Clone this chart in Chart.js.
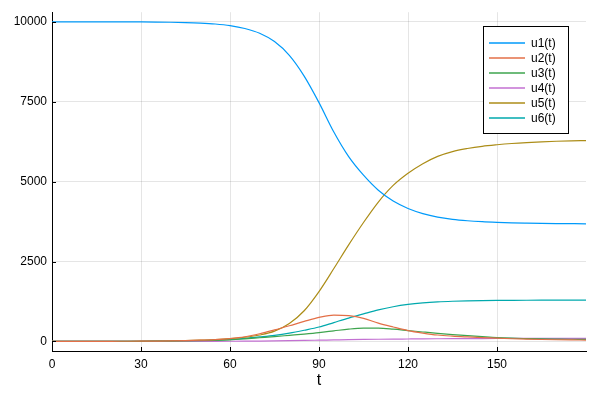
<!DOCTYPE html>
<html>
<head>
<meta charset="utf-8">
<script src="https://cdn.jsdelivr.net/npm/chart.js@4.4.0/dist/chart.umd.min.js"></script>
<style>
  html, body { margin: 0; padding: 0; background: #fff; }
  #wrap { width: 597px; height: 397px; }
</style>
</head>
<body>
<div id="wrap"><canvas id="chart" width="597" height="397"></canvas></div>
<script>
// time points (step 5)
const tValues = [0, 5, 10, 15, 20, 25, 30, 35, 40, 45, 50, 55, 60, 65, 70, 75, 80, 85, 90,
  95, 100, 105, 110, 115, 120, 125, 130, 135, 140, 145, 150, 155, 160, 165, 170, 175, 180];

const u1 = [10000, 10000, 9999, 9999, 9998, 9997, 9995, 9991, 9985, 9975, 9958, 9930, 9880, 9790, 9640, 9380, 8950, 8300, 7470,
  6550, 5780, 5200, 4730, 4390, 4160, 4000, 3890, 3820, 3775, 3745, 3725, 3710, 3700, 3692, 3687, 3683, 3680];
const u2 = [1, 1, 2, 2, 3, 5, 7, 11, 16, 25, 38, 58, 90, 145, 240, 360, 490, 625, 750,
  825, 805, 720, 570, 450, 340, 262, 200, 165, 140, 118, 100, 84, 70, 60, 52, 46, 42];
const u3 = [0, 1, 1, 2, 2, 3, 4, 6, 9, 14, 21, 33, 50, 80, 115, 150, 190, 230, 275,
  330, 385, 415, 415, 385, 340, 295, 252, 215, 182, 150, 120, 100, 88, 78, 72, 67, 65];
const u4 = [0, 0, 0, 0, 0, 0, 0, 0, 1, 1, 2, 3, 5, 8, 12, 17, 23, 30, 38,
  46, 54, 61, 67, 72, 76, 80, 83, 86, 88, 90, 92, 93, 94, 95, 96, 97, 97];
const u5 = [0, 0, 1, 2, 3, 5, 8, 12, 18, 27, 40, 58, 86, 130, 200, 320, 560, 960, 1560,
  2280, 3020, 3720, 4360, 4880, 5260, 5560, 5790, 5940, 6035, 6105, 6153, 6192, 6222, 6245, 6262, 6275, 6285];
const u6 = [0, 0, 1, 1, 2, 3, 4, 7, 10, 16, 25, 38, 60, 95, 140, 190, 260, 350, 450,
  590, 730, 860, 985, 1085, 1157, 1205, 1237, 1257, 1270, 1278, 1283, 1286, 1288, 1289, 1290, 1290, 1290];

const seriesNames = ['u1(t)', 'u2(t)', 'u3(t)', 'u4(t)', 'u5(t)', 'u6(t)'];
const seriesColors = ['#009AFA', '#E36F47', '#3EA44E', '#C371D2', '#AC8D18', '#00A9AD'];

const xTicks = [0, 30, 60, 90, 120, 150];
const yTicks = [0, 2500, 5000, 7500, 10000];

const fontFamily = '"Liberation Sans", Arial, Helvetica, sans-serif';

const allSeries = [u1, u2, u3, u4, u5, u6];
const datasets = allSeries.map((s, i) => ({
    label: seriesNames[i],
    data: s.map((v, j) => ({ x: tValues[j], y: v })),
    borderColor: seriesColors[i],
    backgroundColor: seriesColors[i],
    borderWidth: 1.2,
    pointRadius: 0,
    cubicInterpolationMode: 'monotone',
    fill: false
}));

// small inward tick marks + legend box drawn inside the plot
const extras = {
    id: 'extras',
    afterDraw(chart) {
        const ctx = chart.ctx;
        const area = chart.chartArea;
        const xs = chart.scales.x;
        const ys = chart.scales.y;
        ctx.save();
        ctx.strokeStyle = '#000';
        ctx.lineWidth = 1;
        ctx.beginPath();
        xTicks.forEach(v => {
            const px = Math.round(xs.getPixelForValue(v)) + 0.5;
            ctx.moveTo(px, area.bottom);
            ctx.lineTo(px, area.bottom - 4);
        });
        yTicks.forEach(v => {
            const py = Math.round(ys.getPixelForValue(v)) + 0.5;
            ctx.moveTo(area.left, py);
            ctx.lineTo(area.left + 4, py);
        });
        ctx.stroke();

        // legend
        const bx = 483.5, by = 26.5, bw = 85, bh = 107;
        ctx.fillStyle = '#fff';
        ctx.fillRect(bx, by, bw, bh);
        ctx.strokeStyle = '#000';
        ctx.lineWidth = 1;
        ctx.strokeRect(bx, by, bw, bh);
        ctx.font = '12px ' + fontFamily;
        ctx.textBaseline = 'middle';
        ctx.textAlign = 'left';
        seriesNames.forEach((name, i) => {
            const y = 43 + i * 15;
            ctx.strokeStyle = seriesColors[i];
            ctx.lineWidth = 1.5;
            ctx.beginPath();
            ctx.moveTo(489, y);
            ctx.lineTo(525, y);
            ctx.stroke();
            ctx.fillStyle = '#000';
            ctx.fillText(name, 531, y + 1);
        });
        ctx.restore();
    }
};

new Chart(document.getElementById('chart'), {
    type: 'line',
    data: { datasets },
    options: {
        responsive: false,
        animation: false,
        layout: { padding: { top: 6, right: 11, bottom: 0, left: 0 } },
        plugins: {
            legend: { display: false },
            tooltip: { enabled: false }
        },
        scales: {
            x: {
                type: 'linear',
                min: 0,
                max: 180,
                afterBuildTicks: s => { s.ticks = xTicks.map(v => ({ value: v })); },
                afterFit: s => { s.height = 46; },
                grid: { color: 'rgba(0,0,0,0.1)', drawTicks: false },
                border: { color: '#000', width: 1 },
                ticks: {
                    padding: 6,
                    color: '#000',
                    font: { family: fontFamily, size: 12 },
                    callback: v => String(v)
                },
                title: {
                    display: true,
                    text: 't',
                    color: '#000',
                    font: { family: fontFamily, size: 16 },
                    padding: { top: 0, bottom: 7 }
                }
            },
            y: {
                type: 'linear',
                min: -300,
                max: 10300,
                afterBuildTicks: s => { s.ticks = yTicks.map(v => ({ value: v })); },
                afterFit: s => { s.width = 52; },
                grid: { color: 'rgba(0,0,0,0.1)', drawTicks: false },
                border: { color: '#000', width: 1 },
                ticks: {
                    padding: 5,
                    color: '#000',
                    font: { family: fontFamily, size: 12 },
                    callback: v => String(v)
                }
            }
        }
    },
    plugins: [extras]
});
</script>
</body>
</html>
